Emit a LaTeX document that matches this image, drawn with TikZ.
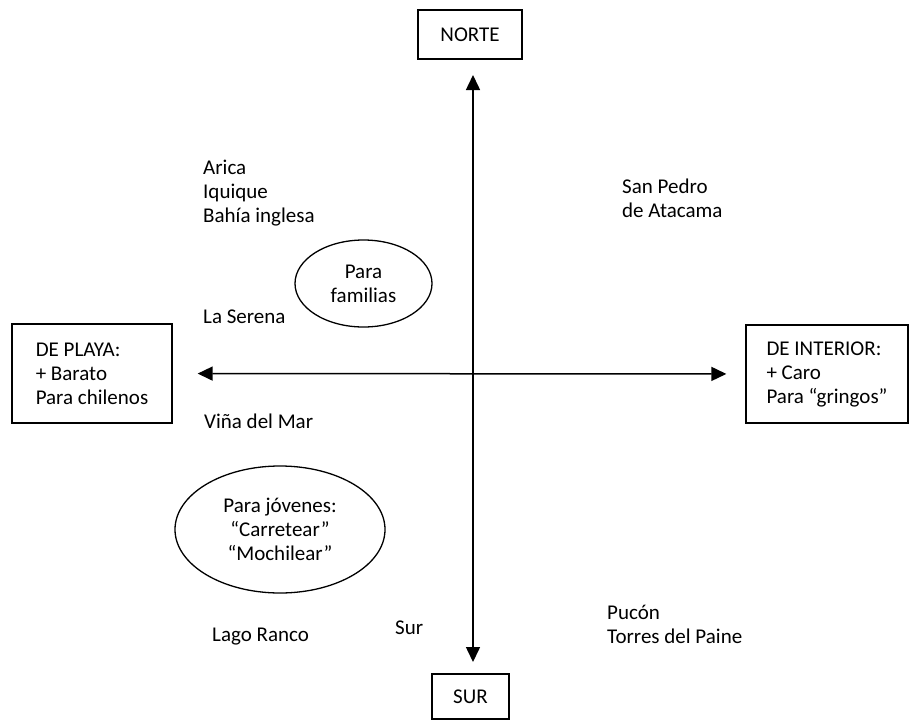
\documentclass[tikz,border=0pt]{standalone}
\usepackage{fontspec}
\setmainfont{Carlito}
\usetikzlibrary{arrows.meta,shapes.geometric}
\tikzset{
  lbl/.style={font=\fontsize{21}{24}\selectfont, inner sep=0pt, align=left, anchor=west},
  framebox/.style={draw, line width=1.3pt, font=\fontsize{21}{24}\selectfont, align=left, inner sep=0pt},
  oval/.style={draw, ellipse, line width=1.3pt, font=\fontsize{21}{24}\selectfont, align=center, inner sep=0pt},
  arr/.style={line width=1.5pt, {Triangle[length=15pt,width=14pt]}-{Triangle[length=15pt,width=14pt]}}
}
\begin{document}
\begin{tikzpicture}[x=1pt,y=-1pt]
\useasboundingbox (0,0) rectangle (917,720);
% boxes
\node[framebox, minimum width=104pt, minimum height=49pt] (norte) at (470,34.5) {NORTE};
\node[framebox, minimum width=77pt, minimum height=45pt] (sur) at (470.5,696.5) {SUR};
\node[framebox, minimum width=160pt, minimum height=99pt] (playa) at (92,373.5) {DE PLAYA:\\+ Barato\\Para chilenos};
\node[framebox, minimum width=162pt, minimum height=98pt] (interior) at (827,374) {DE INTERIOR:\\+ Caro\\Para “gringos”};
% axes
\coordinate (ntip) at (473,75);
\coordinate (stip) at (473,662);
\draw[arr] (ntip) -- (stip);
\draw[arr, shorten <=25pt, shorten >=19pt] (playa) -- (interior);
% ellipses
\node[oval, minimum width=137pt, minimum height=87pt] (familias) at (363.5,283.5) {Para\\familias};
\node[oval, minimum width=210pt, minimum height=127pt] (jovenes) at (280,529.5) {Para jóvenes:\\“Carretear”\\“Mochilear”};
% labels
\node[lbl] (norteplaya) at (203,193) {Arica\\Iquique\\Bahía inglesa};
\node[lbl] (serena) at (203,317) {La Serena};
\node[lbl] (vina) at (204,421) {Viña del Mar};
\node[lbl] (lago) at (212,637) {Lago Ranco};
\node[lbl] (surlbl) at (395,628) {Sur};
\node[lbl] (sanpedro) at (622,198) {San Pedro\\de Atacama};
\node[lbl] (pucon) at (607,624) {Pucón\\Torres del Paine};
\end{tikzpicture}
\end{document}
